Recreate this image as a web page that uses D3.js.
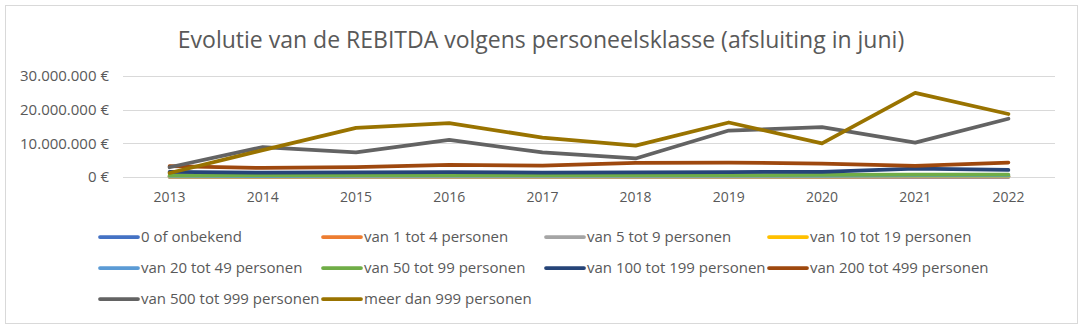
<!DOCTYPE html>
<html>
<head>
<meta charset="utf-8">
<script src="https://cdn.jsdelivr.net/npm/d3@7"></script>
<style>
  body { margin: 0; background: #fff; }
  text { font-family: "Open Sans", sans-serif; fill: #595959; }
</style>
</head>
<body>
<div class="chart"></div>
<script>
var years = [2013, 2014, 2015, 2016, 2017, 2018, 2019, 2020, 2021, 2022];

var seriesNames = ["0 of onbekend", "van 1 tot 4 personen", "van 5 tot 9 personen", "van 10 tot 19 personen",
  "van 20 tot 49 personen", "van 50 tot 99 personen", "van 100 tot 199 personen", "van 200 tot 499 personen",
  "van 500 tot 999 personen", "meer dan 999 personen"];

var seriesColors = ["#4472c4", "#ed7d31", "#a5a5a5", "#ffc000", "#5b9bd5", "#70ad47",
  "#264478", "#9e480e", "#636363", "#997300"];

// values in euro
var onbekend = [50000, 40000, 40000, 50000, 40000, 40000, 50000, 50000, 60000, 50000];
var van1tot4 = [80000, 70000, 80000, 90000, 80000, 90000, 100000, 100000, 120000, 110000];
var van5tot9 = [120000, 110000, 120000, 130000, 120000, 130000, 140000, 150000, 170000, 160000];
var van10tot19 = [180000, 170000, 190000, 200000, 190000, 200000, 210000, 220000, 250000, 240000];
var van20tot49 = [300000, 280000, 310000, 330000, 320000, 340000, 350000, 370000, 420000, 400000];
var van50tot99 = [500000, 480000, 520000, 560000, 540000, 560000, 580000, 600000, 700000, 680000];
var van100tot199 = [1500000, 1300000, 1350000, 1450000, 1300000, 1400000, 1450000, 1550000, 2500000, 2100000];
var van200tot499 = [3200000, 2700000, 2900000, 3600000, 3400000, 4200000, 4300000, 4000000, 3300000, 4300000];
var van500tot999 = [2900000, 8900000, 7300000, 11000000, 7300000, 5500000, 13800000, 14800000, 10200000, 17300000];
var meerDan999 = [1200000, 8000000, 14600000, 16000000, 11700000, 9300000, 16200000, 10000000, 25000000, 18700000];

var yTicks = [0, 10000000, 20000000, 30000000];

var allValues = [onbekend, van1tot4, van5tot9, van10tot19, van20tot49, van50tot99,
  van100tot199, van200tot499, van500tot999, meerDan999];

var series = seriesNames.map(function (name, i) {
  return { name: name, color: seriesColors[i], values: allValues[i] };
});

var width = 1084, height = 333;

var svg = d3.select(".chart")
  .append("svg")
  .attr("width", width)
  .attr("height", height);

// outer frame
svg.append("rect")
  .attr("x", 5.5).attr("y", 5.5)
  .attr("width", 1072).attr("height", 318)
  .attr("fill", "#fff")
  .attr("stroke", "#d9d9d9");

svg.append("text")
  .attr("x", 541)
  .attr("y", 48)
  .attr("text-anchor", "middle")
  .style("font-size", "23px")
  .text("Evolutie van de REBITDA volgens personeelsklasse (afsluiting in juni)");

var x = d3.scaleBand()
  .domain(years)
  .range([123, 1055]);

var y = d3.scaleLinear()
  .domain([0, 30000000])
  .range([177, 76]);

var fmt = function (v) {
  return d3.format(",")(v).replace(/,/g, ".") + " €";
};

// gridlines
svg.append("g")
  .selectAll("line")
  .data(yTicks)
  .enter()
  .append("line")
  .attr("x1", 123).attr("x2", 1055)
  .attr("y1", function (d) { return Math.round(y(d)) + 0.5; })
  .attr("y2", function (d) { return Math.round(y(d)) + 0.5; })
  .attr("stroke", "#d9d9d9");

var yAxis = svg.append("g")
  .attr("transform", "translate(109,0)")
  .call(d3.axisLeft(y).tickValues(yTicks).tickFormat(fmt).tickSize(0).tickPadding(0));
yAxis.select(".domain").remove();
yAxis.selectAll("text").style("font-size", "15px").attr("fill", "#595959").style("font-family", "Open Sans");

var xAxis = svg.append("g")
  .attr("transform", "translate(0,188)")
  .call(d3.axisBottom(x).tickSize(0).tickPadding(4));
xAxis.select(".domain").remove();
xAxis.selectAll("text").style("font-size", "14px").attr("fill", "#595959").style("font-family", "Open Sans");

var line = d3.line()
  .x(function (d, i) { return x(years[i]) + x.bandwidth() / 2; })
  .y(function (d) { return y(d); });

svg.append("g")
  .selectAll("path")
  .data(series)
  .enter()
  .append("path")
  .attr("d", function (d) { return line(d.values); })
  .attr("fill", "none")
  .attr("stroke", function (d) { return d.color; })
  .attr("stroke-width", 3.75)
  .attr("stroke-linejoin", "round")
  .attr("stroke-linecap", "round");

// legend
var legend = svg.append("g")
  .selectAll("g")
  .data(series)
  .enter()
  .append("g")
  .attr("transform", function (d, i) {
    return "translate(" + (100 + (i % 4) * 223) + "," + (237 + Math.floor(i / 4) * 31) + ")";
  });

legend.append("line")
  .attr("x1", 0).attr("x2", 38)
  .attr("stroke", function (d) { return d.color; })
  .attr("stroke-width", 3.75)
  .attr("stroke-linecap", "round");

legend.append("text")
  .attr("x", 41)
  .attr("dy", "0.35em")
  .style("font-size", "15px")
  .text(function (d) { return d.name; });
</script>
</body>
</html>
